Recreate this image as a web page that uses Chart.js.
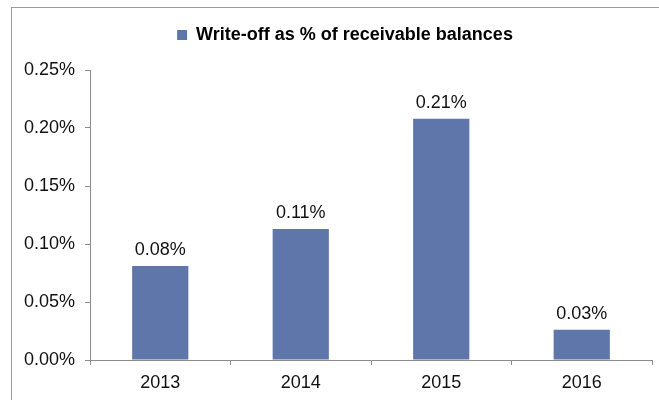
<!DOCTYPE html>
<html>
<head>
<meta charset="utf-8">
<script src="https://cdn.jsdelivr.net/npm/chart.js@4.4.1/dist/chart.umd.min.js"></script>
<style>
  html, body { margin: 0; padding: 0; background: #fff; }
  #wrap { width: 659px; height: 400px; position: relative; }
</style>
</head>
<body>
<div id="wrap"><canvas id="c" width="659" height="400"></canvas></div>
<script>
// Write-off ratio by year (percent of receivable balances)
const years = ['2013', '2014', '2015', '2016'];
const writeOffPct = [0.081, 0.113, 0.208, 0.026];
const yTicks = [0, 0.05, 0.10, 0.15, 0.20, 0.25];
const seriesName = 'Write-off as % of receivable balances';

const FONT = '"Liberation Sans", Arial, sans-serif';
const FONT_SIZE = 18;
const AXIS_GRAY = '#8c8c8c';
const LEGEND_SHIFT = 19; // legend is centred over the framed panel, not the canvas

// Thin frame around the chart panel
const framePlugin = {
  id: 'frame',
  beforeDraw(chart) {
    const ctx = chart.ctx;
    ctx.save();
    ctx.fillStyle = '#fff';
    ctx.fillRect(0, 0, chart.width, chart.height);
    ctx.strokeStyle = '#9a9a9a';
    ctx.lineWidth = 1;
    ctx.strokeRect(11.5, 7.5, chart.width + 20, chart.height + 20);
    ctx.restore();
  }
};

// Nudge the legend box to the right after layout
const legendShift = {
  id: 'legendShift',
  afterLayout(chart) {
    if (chart.legend) {
      chart.legend.left += LEGEND_SHIFT;
      chart.legend.right += LEGEND_SHIFT;
    }
  }
};

// Value labels above each bar
const valueLabels = {
  id: 'valueLabels',
  afterDatasetsDraw(chart) {
    const ctx = chart.ctx;
    ctx.save();
    ctx.font = FONT_SIZE + 'px ' + FONT;
    ctx.fillStyle = '#111';
    ctx.textAlign = 'center';
    ctx.textBaseline = 'alphabetic';
    chart.getDatasetMeta(0).data.forEach((bar, i) => {
      const v = chart.data.datasets[0].data[i];
      ctx.fillText(v.toFixed(2) + '%', bar.x, bar.y - 11);
    });
    ctx.restore();
  }
};

new Chart(document.getElementById('c'), {
  type: 'bar',
  data: {
    labels: years,
    datasets: [{
      label: seriesName,
      data: writeOffPct,
      xAxisID: 'x',
      yAxisID: 'y',
      backgroundColor: '#5E76A9',
      borderWidth: 0,
      barPercentage: 0.4,
      categoryPercentage: 1.0
    }]
  },
  options: {
    responsive: false,
    animation: false,
    devicePixelRatio: 1,
    layout: { padding: { left: 0, right: 7, top: 0, bottom: 0 } },
    plugins: {
      tooltip: { enabled: false },
      legend: {
        display: true,
        position: 'top',
        labels: {
          boxWidth: 10,
          boxHeight: 10,
          padding: 26,
          color: '#000',
          font: { family: FONT, size: FONT_SIZE, weight: 'bold' }
        }
      }
    },
    scales: {
      x: {
        offset: true,
        afterFit(scale) { scale.height = 40; },
        grid: {
          offset: true,
          drawOnChartArea: false,
          drawTicks: true,
          tickLength: 5,
          color: AXIS_GRAY
        },
        border: { color: AXIS_GRAY, width: 1 },
        ticks: {
          color: '#111',
          padding: 7,
          font: { family: FONT, size: FONT_SIZE }
        }
      },
      // empty band between the legend and the plot
      gap: {
        type: 'category',
        position: 'top',
        afterFit(scale) { scale.height = 16; },
        grid: { display: false },
        border: { display: false },
        ticks: { display: false }
      },
      y: {
        min: 0,
        max: 0.25,
        afterFit(scale) { scale.width = 90; },
        afterBuildTicks(scale) { scale.ticks = yTicks.map(v => ({ value: v })); },
        grid: {
          drawOnChartArea: false,
          drawTicks: true,
          tickLength: 5,
          color: AXIS_GRAY
        },
        border: { color: AXIS_GRAY, width: 1 },
        ticks: {
          color: '#111',
          padding: 10,
          font: { family: FONT, size: FONT_SIZE },
          callback: v => v.toFixed(2) + '%'
        }
      }
    }
  },
  plugins: [framePlugin, legendShift, valueLabels]
});
</script>
</body>
</html>
